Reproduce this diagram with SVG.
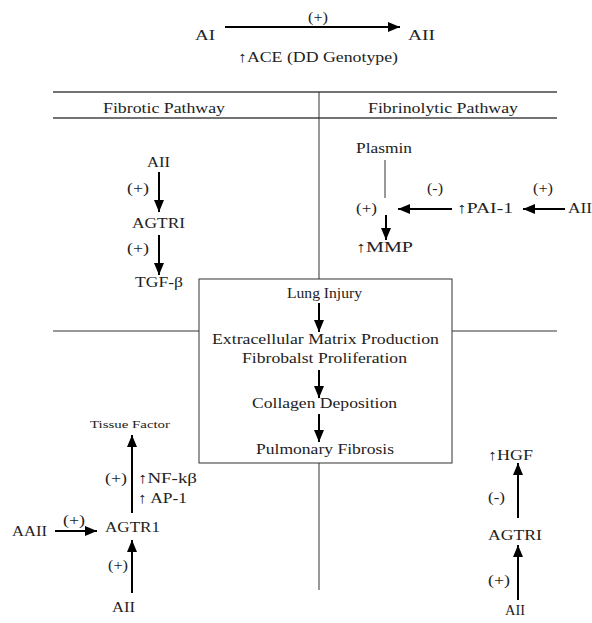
<svg xmlns="http://www.w3.org/2000/svg" width="592" height="623" viewBox="0 0 592 623">
<style>
text{font-family:"Liberation Serif","DejaVu Serif",serif;font-size:15px;fill:#222}
.sm{font-size:11px}
.up{font-family:"DejaVu Serif",serif;font-weight:normal}
.ln{stroke:#444;stroke-width:1.3;fill:none}
.thin{stroke:#333;stroke-width:1;fill:none}
.ar{stroke:#000;stroke-width:2;fill:none;marker-end:url(#ah)}
</style>
<defs>
<marker id="ah" markerUnits="userSpaceOnUse" markerWidth="12" markerHeight="10" refX="12" refY="5" orient="auto">
<path d="M0,0 L12,5 L0,10 z" fill="#000"/>
</marker>
</defs>
<rect width="592" height="623" fill="#fff"/>
<g id="frame">
<line class="ln" x1="53" y1="92" x2="557" y2="92"/>
<line class="ln" x1="53" y1="118" x2="557" y2="118"/>
<line class="thin" x1="319" y1="92" x2="319" y2="279"/>
<line class="thin" x1="319" y1="463" x2="319" y2="590"/>
<line class="thin" x1="53" y1="331" x2="199" y2="331"/>
<line class="thin" x1="452" y1="331" x2="557" y2="331"/>
<text x="103" y="113" textLength="122" lengthAdjust="spacingAndGlyphs">Fibrotic Pathway</text>
<text x="368" y="113" textLength="150" lengthAdjust="spacingAndGlyphs">Fibrinolytic Pathway</text>
</g>
<g id="center-box">
<rect x="199" y="279" width="253" height="184" fill="#fff" stroke="#333" stroke-width="1"/>
<text x="287" y="298" textLength="75" lengthAdjust="spacingAndGlyphs">Lung Injury</text>
<text x="212" y="344" textLength="227" lengthAdjust="spacingAndGlyphs">Extracellular Matrix Production</text>
<text x="242" y="363" textLength="165" lengthAdjust="spacingAndGlyphs">Fibrobalst Proliferation</text>
<text x="252" y="408" textLength="145" lengthAdjust="spacingAndGlyphs">Collagen Deposition</text>
<text x="256" y="454" textLength="138" lengthAdjust="spacingAndGlyphs">Pulmonary Fibrosis</text>
</g>
<g id="connectors">
<line class="ar" x1="225" y1="27" x2="400" y2="27"/>
<line class="ar" x1="159" y1="172" x2="159" y2="212"/>
<line class="ar" x1="159" y1="235" x2="159" y2="275"/>
<line class="thin" x1="385" y1="160" x2="385" y2="198"/>
<line class="ar" x1="386" y1="215" x2="386" y2="240"/>
<line class="ar" x1="452" y1="209" x2="398" y2="209"/>
<line class="ar" x1="565" y1="209" x2="523" y2="209"/>
<line class="ar" x1="319" y1="303" x2="319" y2="332"/>
<line class="ar" x1="319" y1="370" x2="319" y2="398"/>
<line class="ar" x1="319" y1="414" x2="319" y2="442"/>
<line class="ar" x1="132" y1="513" x2="132" y2="435"/>
<line class="ar" x1="132" y1="593" x2="132" y2="540"/>
<line class="ar" x1="55" y1="531" x2="97" y2="531"/>
<line class="ar" x1="518" y1="518" x2="518" y2="463"/>
<line class="ar" x1="518" y1="600" x2="518" y2="545"/>
</g>
<g id="top">
<text x="195" y="40" textLength="20" lengthAdjust="spacingAndGlyphs">AI</text>
<text x="308" y="22" textLength="20" lengthAdjust="spacingAndGlyphs">(+)</text>
<text x="408" y="40" textLength="27" lengthAdjust="spacingAndGlyphs">AII</text>
<text x="238" y="62" textLength="160" lengthAdjust="spacingAndGlyphs">↑ACE (DD Genotype)</text>
</g>
<g id="fibrotic">
<text x="147" y="167" textLength="23" lengthAdjust="spacingAndGlyphs">AII</text>
<text x="127" y="193" textLength="22" lengthAdjust="spacingAndGlyphs">(+)</text>
<text x="132" y="228" textLength="53" lengthAdjust="spacingAndGlyphs">AGTRI</text>
<text x="127" y="253" textLength="22" lengthAdjust="spacingAndGlyphs">(+)</text>
<text x="135" y="287" textLength="48" lengthAdjust="spacingAndGlyphs">TGF-β</text>
</g>
<g id="fibrinolytic">
<text x="356" y="153" textLength="56" lengthAdjust="spacingAndGlyphs">Plasmin</text>
<text x="356" y="213" textLength="21" lengthAdjust="spacingAndGlyphs">(+)</text>
<text x="356" y="252" textLength="57" lengthAdjust="spacingAndGlyphs">↑MMP</text>
<text x="427" y="193" textLength="16" lengthAdjust="spacingAndGlyphs">(-)</text>
<text x="457" y="213" textLength="56" lengthAdjust="spacingAndGlyphs">↑PAI-1</text>
<text x="533" y="193" textLength="20" lengthAdjust="spacingAndGlyphs">(+)</text>
<text x="568" y="213" textLength="24" lengthAdjust="spacingAndGlyphs">AII</text>
</g>
<g id="bottom-left">
<text class="sm" x="90" y="428" textLength="80" lengthAdjust="spacingAndGlyphs">Tissue Factor</text>
<text x="105" y="483" textLength="22" lengthAdjust="spacingAndGlyphs">(+)</text>
<text x="138" y="483" textLength="59" lengthAdjust="spacingAndGlyphs">↑NF-kβ</text>
<text x="138" y="503" textLength="49" lengthAdjust="spacingAndGlyphs">↑ AP-1</text>
<text x="105" y="532" textLength="55" lengthAdjust="spacingAndGlyphs">AGTR1</text>
<text x="108" y="570" textLength="20" lengthAdjust="spacingAndGlyphs">(+)</text>
<text x="112" y="612" textLength="23" lengthAdjust="spacingAndGlyphs">AII</text>
<text x="63" y="525" textLength="22" lengthAdjust="spacingAndGlyphs">(+)</text>
<text x="12" y="536" textLength="35" lengthAdjust="spacingAndGlyphs">AAII</text>
</g>
<g id="bottom-right">
<text x="488" y="460" textLength="45" lengthAdjust="spacingAndGlyphs">↑HGF</text>
<text x="488" y="502" textLength="17" lengthAdjust="spacingAndGlyphs">(-)</text>
<text x="488" y="540" textLength="54" lengthAdjust="spacingAndGlyphs">AGTRI</text>
<text x="488" y="585" textLength="22" lengthAdjust="spacingAndGlyphs">(+)</text>
<text x="505" y="615" textLength="20" lengthAdjust="spacingAndGlyphs">AII</text>
</g>
</svg>
